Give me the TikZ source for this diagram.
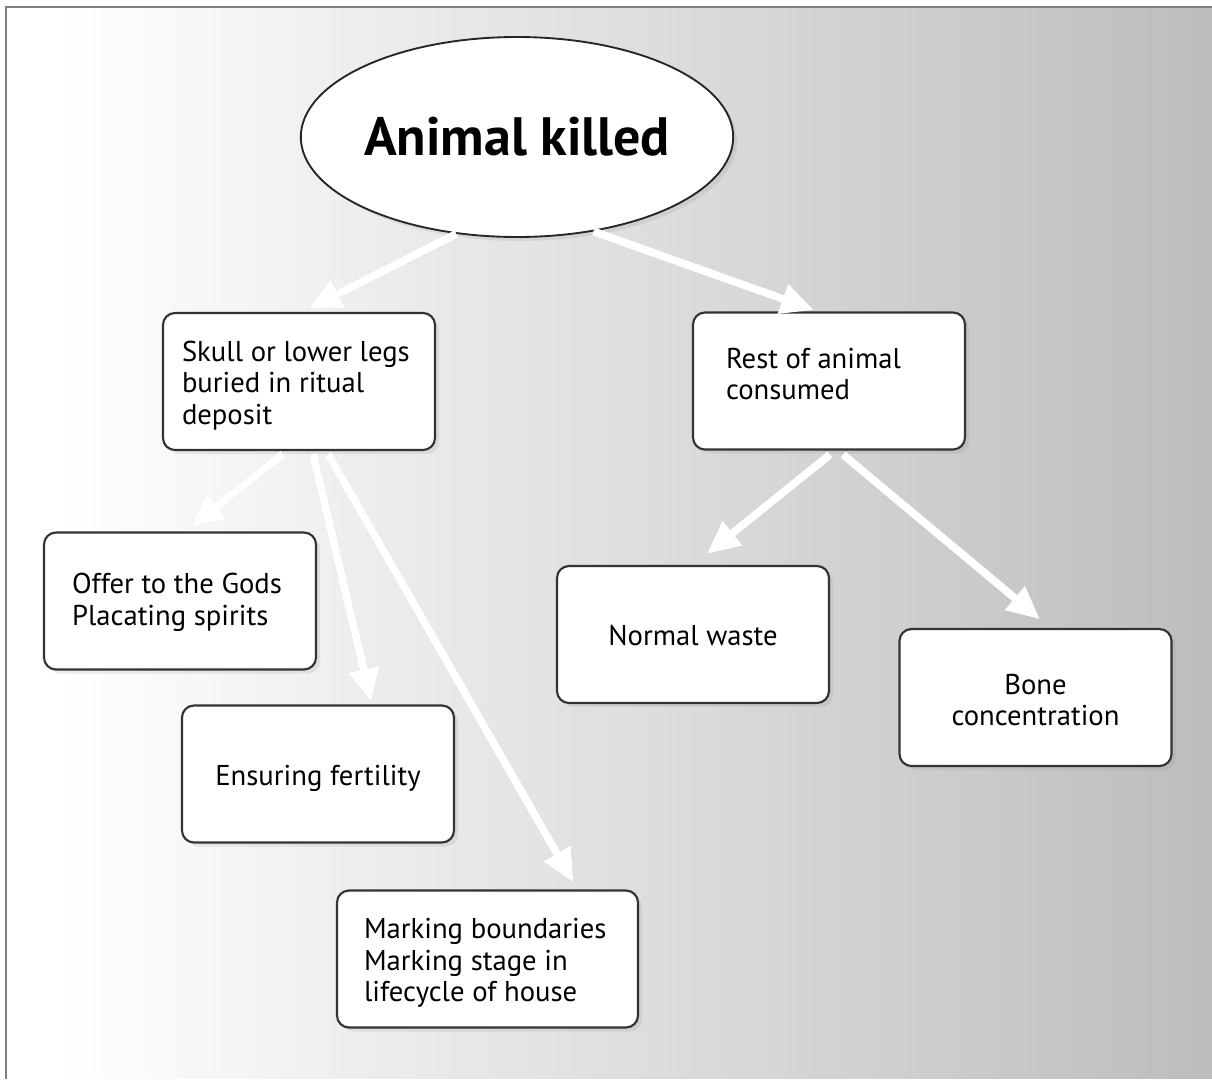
\documentclass[tikz,border=0pt]{standalone}
\usepackage{fontspec}
\setmainfont{PT Sans}
\usetikzlibrary{arrows.meta,calc,shapes.geometric,shadows}
\tikzset{
  box/.style={draw=black!80, line width=1.6pt, rounded corners=9pt, fill=white,
    minimum width=204pt, minimum height=102.75pt, inner sep=0pt,
    font=\fontsize{21.5}{23.5}\selectfont,
    drop shadow={opacity=0.15, shadow xshift=3pt, shadow yshift=-3pt}},
  cbox/.style={box, align=center},
  arr/.style={draw=white, line width=6pt, -{Triangle[length=25pt,width=22pt,fill=white]}},
  arrsh/.style={draw=black, line width=6pt, -{Triangle[length=25pt,width=22pt]}},
}
\newcommand{\boxtext}[3]{\raisebox{#1}[\height][\depth]{\parbox[c]{#2}{\raggedright #3}}}
\newcommand{\lifttext}[2]{\raisebox{#1}[\height][\depth]{#2}}
\begin{document}
\begin{tikzpicture}[x=0.75pt,y=-0.75pt]
\useasboundingbox (0,0) rectangle (1212,1079);
\fill[white] (0,0) rectangle (1212,1079);
\foreach \i in {0,...,100}{
  \pgfmathsetmacro\xa{6+12*\i}
  \pgfmathsetmacro\p{max(0,min(26,(\xa+6-60)/1152*26))}
  \fill[black!\p] (\xa,7) rectangle ({\xa+12.6},1079);
}
\draw[black!50, line width=1.5pt] (6,1079) -- (6,7) -- (1212,7);

\node[ellipse, draw=black!85, line width=1.4pt, fill=white, minimum width=302pt, minimum height=150pt, inner sep=0pt,
  font=\fontsize{40.5}{45}\selectfont\bfseries,
  drop shadow={opacity=0.15, shadow xshift=3pt, shadow yshift=-3pt}] (ell) at (517,137) {Animal killed};

\node[box] (skull) at (299,381.5) {\boxtext{-3pt}{175.5pt}{Skull or lower legs\\buried in ritual\\deposit}};
\node[box] (rest) at (829,381) {\boxtext{5.25pt}{154.5pt}{Rest of animal\\consumed}};
\node[box] (offer) at (180,601) {\boxtext{-1pt}{162pt}{Offer to the Gods\\Placating spirits}};
\node[cbox] (ensure) at (318,774) {\lifttext{-3pt}{Ensuring fertility}};
\node[box, minimum width=225.75pt] (mark) at (487.5,959) {\boxtext{-3pt}{185.25pt}{Marking boundaries\\Marking stage in\\lifecycle of house}};
\node[cbox] (normal) at (693,634.5) {\lifttext{-1pt}{Normal waste}};
\node[cbox] (bone) at (1035.5,697.5) {\lifttext{-2pt}{\parbox[c]{180pt}{\centering Bone\\concentration}}};

% arrow shadows
\foreach \dx/\dy/\o in {5/6/0.10, 8/9/0.06}{
\begin{scope}[shift={(\dx,\dy)}, opacity=\o]
\draw[arrsh, shorten >=5pt] (ell.-122) -- ($(skull.north)+(3,0)$);
\draw[arrsh, shorten >=3pt] (ell.-51) -- ($(rest.north)+(-11,0)$);
\draw[arrsh, shorten >=5pt] ($(skull.south)+(-16,3)$) -- ($(offer.north)+(5,0)$);
\draw[arrsh, shorten >=2pt] ($(skull.south)+(14,3)$) -- ($(ensure.north)+(54,0)$);
\draw[arrsh, shorten >=6pt] ($(skull.south)+(29,3)$) -- ($(mark.north)+(90,0)$);
\draw[arrsh, shorten >=13pt] ($(rest.south)+(1,4)$) -- (normal.north);
\draw[arrsh, shorten >=10pt] ($(rest.south)+(14,4)$) -- ($(bone.north)+(15,0)$);
\end{scope}}

\draw[arr, shorten >=5pt] (ell.-122) -- ($(skull.north)+(3,0)$);
\draw[arr, shorten >=3pt] (ell.-51) -- ($(rest.north)+(-11,0)$);
\draw[arr, shorten >=5pt] ($(skull.south)+(-16,3)$) -- ($(offer.north)+(5,0)$);
\draw[arr, shorten >=2pt] ($(skull.south)+(14,3)$) -- ($(ensure.north)+(54,0)$);
\draw[arr, shorten >=6pt] ($(skull.south)+(29,3)$) -- ($(mark.north)+(90,0)$);
\draw[arr, shorten >=13pt] ($(rest.south)+(1,4)$) -- (normal.north);
\draw[arr, shorten >=10pt] ($(rest.south)+(14,4)$) -- ($(bone.north)+(15,0)$);
\end{tikzpicture}
\end{document}
